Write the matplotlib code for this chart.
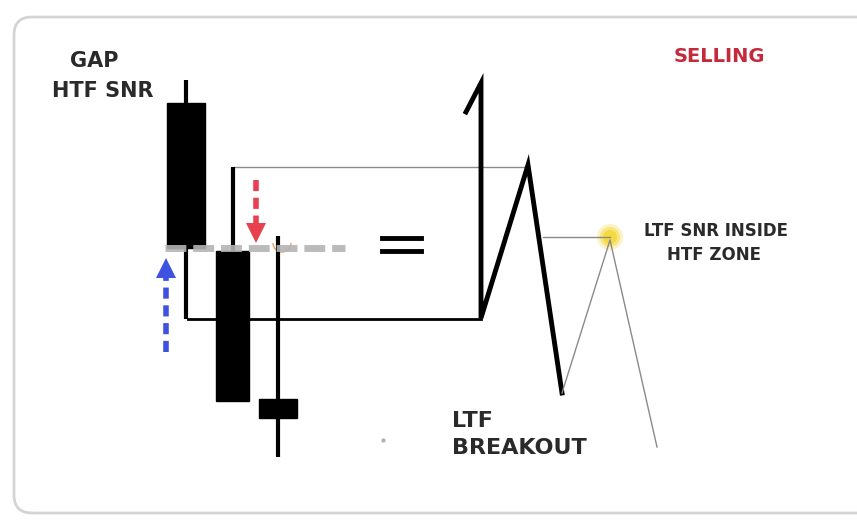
import numpy as np
import matplotlib.pyplot as plt
from matplotlib.patches import FancyBboxPatch, Rectangle, Circle, Arc, Polygon

# Diagram laid out in picture pixels (x right, y down)
W, H = 857, 521

# Candles: x centre, body top, body bottom, wick top, wick bottom, body width
candle_x = [186, 233, 278]
body_top = [103, 251, 399]
body_bot = [248, 401, 418]
wick_top = [80, 167, 236]
wick_bot = [319, 399, 457]
body_w = [38, 33, 38]

# Thick LTF structure
zig_x = [466, 481, 481, 528, 562]
zig_y = [112, 83, 318, 165, 393]

# Thin continuation
thin_x = [562, 610, 657]
thin_y = [393, 240, 447]

# Horizontal levels: (x0, x1, y)
levels = [(188, 481, 319), (234, 528, 167), (543, 610, 237)]

# Dashed arrows: x, tail y, tip y, colour
arrows = [(256, 180, 243, "#e8404f"), (166, 352, 258, "#3f51e0")]

fig = plt.figure(figsize=(8.57, 5.21), dpi=100)
ax = fig.add_axes([0, 0, 1, 1])
ax.set_xlim(0, W)
ax.set_ylim(H, 0)
ax.axis("off")

# rounded frame
frame = FancyBboxPatch((14, 17), 870, 496, boxstyle="round,pad=0,rounding_size=18",
                       fill=False, edgecolor="#d4d4d4", linewidth=2)
ax.add_patch(frame)

# levels
ax.plot([levels[0][0], levels[0][1]], [levels[0][2]] * 2, color="black", lw=2)
ax.plot([levels[1][0], levels[1][1]], [levels[1][2]] * 2, color="#8a8a8a", lw=1)
ax.plot([levels[2][0], levels[2][1]], [levels[2][2]] * 2, color="#8a8a8a", lw=1)

# candles
for i in range(len(candle_x)):
    ax.plot([candle_x[i], candle_x[i]], [wick_top[i], wick_bot[i]], color="black", lw=3,
            solid_capstyle="butt")
    ax.add_patch(Rectangle((candle_x[i] - body_w[i] / 2, body_top[i]), body_w[i],
                           body_bot[i] - body_top[i], color="black"))

# gap level dashed
ax.plot([165, 345], [248, 248], color="#b4b4b4", lw=5, linestyle=(0, (3, 1)), alpha=0.9)

# arrows: dashed shaft + solid head
for x, y0, y1, c in arrows:
    d = np.sign(y1 - y0)
    base = y1 - d * 20
    ax.plot([x, x], [y0, base], color=c, lw=4, linestyle=(0, (2, 1.2)),
            solid_capstyle="butt")
    ax.add_patch(Polygon([(x - 10, base), (x + 10, base), (x, y1)], closed=True,
                         color=c, lw=0))
ax.add_patch(Arc((282, 243), 18, 18, theta1=0, theta2=180, color="#e8a060", lw=1))

# equals sign
ax.plot([382, 421], [238, 238], color="black", lw=3.5)
ax.plot([382, 421], [251, 251], color="black", lw=3.5)

# zigzags
ax.plot(zig_x, zig_y, color="black", lw=3.5, solid_joinstyle="miter")
ax.plot(thin_x, thin_y, color="#8a8a8a", lw=1)

# glow
for r, a in [(13, 0.25), (10, 0.4), (7, 0.6)]:
    ax.add_patch(Circle((610, 237), r, color="#f2d21a", alpha=a, lw=0))

txt = dict(family="DejaVu Sans", fontweight="bold", color="#2a2a2a")
ax.text(94, 61, "GAP", fontsize=15, ha="center", va="center", **txt)
ax.text(103, 91, "HTF SNR", fontsize=15, ha="center", va="center", **txt)
ax.text(719, 57, "SELLING", fontsize=14, ha="center", va="center",
        family="DejaVu Sans", fontweight="bold", color="#c42a3c")
ax.text(716, 231, "LTF SNR INSIDE", fontsize=12, ha="center", va="center", **txt)
ax.text(714, 255, "HTF ZONE", fontsize=12, ha="center", va="center", **txt)
ax.text(452, 421, "LTF", fontsize=16, ha="left", va="center", **txt)
ax.text(452, 448, "BREAKOUT", fontsize=16, ha="left", va="center", **txt)
ax.plot([383], [440], marker="o", ms=2, color="#b0b0b0")

fig.savefig("out.png", dpi=100)
